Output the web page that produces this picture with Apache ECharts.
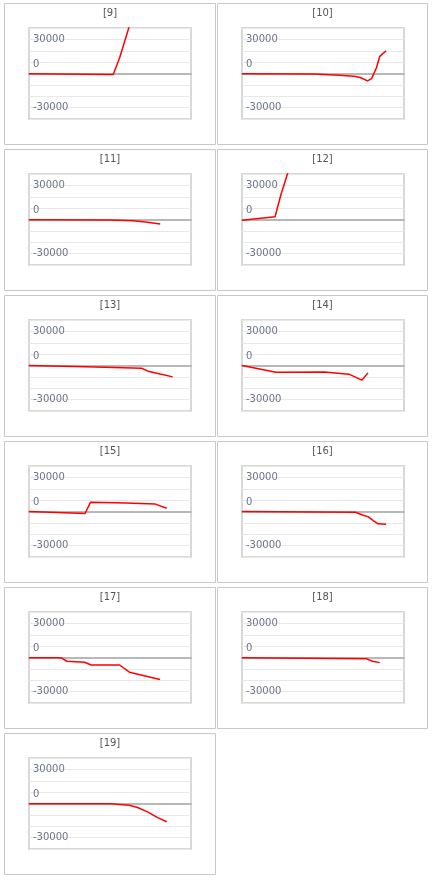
<!DOCTYPE html>
<html>
<head>
<meta charset="utf-8">
<script src="https://cdn.jsdelivr.net/npm/echarts@6/dist/echarts.min.js"></script>
<style>
html,body{margin:0;padding:0;background:#fff;}
#c{width:444px;height:886px;}
</style>
</head>
<body>
<div id="c"></div>
<script>
// Panel titles
const titles = ['[9]','[10]','[11]','[12]','[13]','[14]','[15]','[16]','[17]','[18]','[19]'];
// y-axis tick labels shown
const tickLabels = [30000, 0, -30000];
// x positions (share of the x range, 0..100) and values for each panel
const x9  = [0, 52, 56, 62];
const y9  = [-200, -900, 14000, 42000];
const x10 = [0, 44, 60, 69, 73, 77.5, 80, 83, 85, 89];
const y10 = [-300, -400, -1500, -2400, -3500, -6500, -4500, 5000, 15000, 20000];
const x11 = [0, 50, 64, 72, 81];
const y11 = [-300, -400, -1200, -2200, -4000];
const x12 = [0, 20.4, 24, 28.5];
const y12 = [-600, 2400, 21800, 42000];
const x13 = [0, 35, 69.5, 73.5, 81, 88.7];
const y13 = [-100, -1200, -2400, -5000, -7500, -10000];
const x14 = [0, 21, 51, 66, 74, 77.7];
const y14 = [0, -5900, -5800, -7600, -12900, -6500];
const x15 = [0, 34.6, 38, 60, 78, 85];
const y15 = [0, -1800, 8200, 7400, 6500, 2900];
const x16 = [0, 70, 74, 78, 81, 84, 89];
const y16 = [0, -600, -2900, -4700, -8000, -10800, -11200];
const x17 = [0, 19.9, 23.4, 34.3, 38.4, 55.9, 62, 80.9];
const y17 = [-300, -300, -3300, -4200, -6600, -6600, -12900, -19400];
const x18 = [0, 40, 77, 80.5, 85];
const y18 = [-200, -600, -1200, -3300, -4500];
const x19 = [0, 50.5, 61.9, 67, 73.2, 79.4, 85];
const y19 = [-300, -300, -1500, -3500, -7400, -12400, -16000];

const xsAll = [x9,x10,x11,x12,x13,x14,x15,x16,x17,x18,x19];
const ysAll = [y9,y10,y11,y12,y13,y14,y15,y16,y17,y18,y19];

const chart = echarts.init(document.getElementById('c'), null, {renderer:'canvas'});
const grids=[], xAxes=[], yAxes=[], series=[], titleArr=[], graphics=[];
const FONT = 'DejaVu Sans';
titles.forEach((t,i)=>{
  const col=i%2, row=Math.floor(i/2);
  const pl = col===0 ? 4 : 217;
  const pw = col===0 ? 212 : 211;
  const pt = 3 + row*146;
  const ph = 141;
  graphics.push({type:'rect', shape:{x:pl+0.5,y:pt+0.5,width:pw-1,height:ph}, style:{fill:'#fff',stroke:'#c8c8c8',lineWidth:1}, z:-10});
  titleArr.push({text:t, left:pl+pw/2, top:pt+5, padding:0, textAlign:'center',
    textStyle:{fontFamily:FONT,fontSize:10,fontWeight:'normal',color:'#555'}});
  grids.push({left:pl+25, top:pt+25, width:162, height:91, show:true, borderColor:'#d8d8d8', borderWidth:2, backgroundColor:'#fff'});
  xAxes.push({type:'value', gridIndex:i, min:0, max:100, axisLabel:{show:false}, axisTick:{show:false}, splitLine:{show:false},
    axisLine:{show:true,onZero:true,lineStyle:{color:'#b8b8b8',width:2}}});
  yAxes.push({type:'value', gridIndex:i, min:-40000, max:40000, interval:10000,
    axisLine:{show:false}, axisTick:{show:false},
    splitLine:{show:true,lineStyle:{color:'#e8e8e8',width:1}},
    axisLabel:{inside:true, margin:4, fontFamily:FONT, fontSize:10, color:'#6b7487',
      formatter:function(v){ if(v===0) return '{z|0}'; return tickLabels.indexOf(v)>=0 ? String(v) : ''; },
      rich:{z:{fontFamily:FONT,fontSize:10,color:'#6b7487',padding:[0,0,18,0]}}}});
  series.push({type:'line', xAxisIndex:i, yAxisIndex:i, symbol:'none', clip:true,
    lineStyle:{color:'#ff0000',width:1.5},
    data: xsAll[i].map((x,k)=>[x, ysAll[i][k]]), animation:false});
});
chart.setOption({backgroundColor:'#fff', animation:false, title:titleArr, grid:grids, xAxis:xAxes, yAxis:yAxes, series:series, graphic:graphics});
</script>
</body>
</html>
